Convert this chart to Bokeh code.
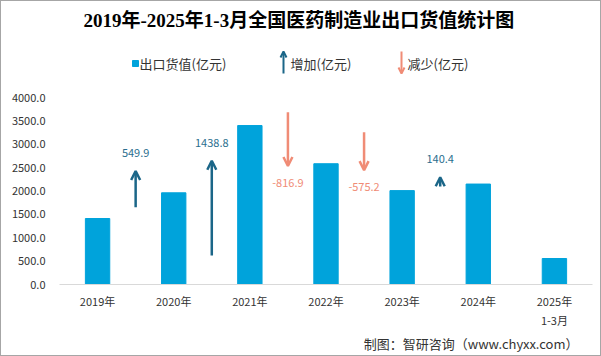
from bokeh.plotting import figure
from bokeh.layouts import column
from bokeh.models import (Range1d, FixedTicker, ColumnDataSource, Arrow,
                          OpenHead, LabelSet, NumeralTickFormatter)
from bokeh.embed import file_html
from bokeh.resources import INLINE
from bokeh.core.properties import value

# ---------------- data ----------------
categories = ["2019年", "2020年", "2021年", "2022年", "2023年", "2024年", "2025年\n1-3月"]
export_values = [1411.6, 1961.5, 3400.3, 2583.4, 2008.2, 2148.6, 556.0]
changes = [549.9, 1438.8, -816.9, -575.2, 140.4]
change_labels = ["549.9", "1438.8", "-816.9", "-575.2", "140.4"]
arrow_start = [1174, 441, 2617, 2313, 1489]   # arrow base on the arrow scale
y_ticks = [0, 500, 1000, 1500, 2000, 2500, 3000, 3500, 4000]
title_text = "2019年-2025年1-3月全国医药制造业出口货值统计图"
legend_labels = ["出口货值(亿元)", "增加(亿元)", "减少(亿元)"]
source_text = "制图：智研咨询（www.chyxx.com）"

BAR = "#00A3DB"
UP = "#1B6688"
UP_TXT = "#2A6E8E"
DOWN = "#F08C76"
FONT = "Noto Sans CJK SC"
TXT = "#333333"

W = 599
H_HEAD, H_MAIN, H_FOOT = 85, 248, 21
FL, FR = 58, 591   # plot frame left / right (shared by all rows of the column)


def bare(fig):
    fig.grid.visible = False
    fig.axis.visible = False
    fig.outline_line_color = None
    fig.background_fill_color = "white"
    fig.border_fill_color = "white"
    return fig


# ---------------- header: title + legend ----------------
head = bare(figure(width=W, height=H_HEAD, output_backend="svg", toolbar_location=None,
                   x_range=Range1d(FL, FR), y_range=Range1d(0, H_HEAD),
                   min_border_left=FL, min_border_right=W - FR,
                   min_border_top=0, min_border_bottom=0))
head.text(x=[82], y=[66], text=[title_text], text_align="left", text_baseline="middle",
          text_font=value("Liberation Serif, Noto Sans CJK SC"), text_font_style="bold",
          text_font_size="19px", text_color="#000000")
head.scatter(x=[134], y=[23], marker="square", size=6, color=BAR)
head.text(x=[138, 289, 406], y=[23, 23, 23], text=legend_labels, text_baseline="middle",
          text_font=value(FONT), text_font_size="13px", text_color=TXT)
head.add_layout(Arrow(end=OpenHead(size=6, line_color=UP, line_width=2),
                      x_start=282, y_start=13, x_end=282, y_end=35,
                      line_color=UP, line_width=2))
head.add_layout(Arrow(end=OpenHead(size=6, line_color=DOWN, line_width=2),
                      x_start=400, y_start=35, x_end=400, y_end=13,
                      line_color=DOWN, line_width=2))

# ---------------- main chart ----------------
p = figure(width=W, height=H_MAIN, output_backend="svg", toolbar_location=None,
           x_range=Range1d(-0.5, 6.5), y_range=Range1d(0, 4000),
           min_border_left=FL, min_border_right=W - FR, min_border_top=11, min_border_bottom=50)
p.extra_y_ranges = {"arr": Range1d(0, 2840)}
p.grid.visible = False
p.outline_line_color = None
p.background_fill_color = "white"
p.border_fill_color = "white"

idx = list(range(len(categories)))
p.vbar(x=idx, top=export_values, width=0.32, color=BAR)

p.xaxis.ticker = FixedTicker(ticks=idx)
p.xaxis.major_label_overrides = {i: c for i, c in zip(idx, categories)}
p.xaxis.axis_line_color = "#D9D9D9"
p.xaxis.axis_line_width = 1
p.xaxis.major_tick_line_color = None
p.xaxis.minor_tick_line_color = None
p.xaxis.major_label_standoff = 2
p.yaxis.ticker = FixedTicker(ticks=y_ticks)
p.yaxis.formatter = NumeralTickFormatter(format="0.0")
p.yaxis.axis_line_color = None
p.yaxis.major_tick_line_color = None
p.yaxis.minor_tick_line_color = None
p.yaxis.major_label_standoff = 8
for ax in (p.xaxis, p.yaxis):
    ax.major_label_text_font = FONT
    ax.major_label_text_font_size = "11px"
    ax.major_label_text_color = TXT

mid = [i + 0.5 for i in range(len(changes))]
arrow_end = [s + c for s, c in zip(arrow_start, changes)]
for m, s, e, c in zip(mid, arrow_start, arrow_end, changes):
    col = UP if c > 0 else DOWN
    p.add_layout(Arrow(end=OpenHead(size=9, line_color=col, line_width=2.5),
                       x_start=m, y_start=s, x_end=m, y_end=e,
                       line_color=col, line_width=2.5, y_range_name="arr"))

up_src = ColumnDataSource(dict(x=[m for m, c in zip(mid, changes) if c > 0],
                               y=[e for e, c in zip(arrow_end, changes) if c > 0],
                               t=[t for t, c in zip(change_labels, changes) if c > 0]))
dn_src = ColumnDataSource(dict(x=[m for m, c in zip(mid, changes) if c < 0],
                               y=[e for e, c in zip(arrow_end, changes) if c < 0],
                               t=[t for t, c in zip(change_labels, changes) if c < 0]))
p.add_layout(LabelSet(x="x", y="y", text="t", source=up_src, y_range_name="arr",
                      y_offset=18, text_align="center", text_baseline="middle",
                      text_font=value(FONT), text_font_size="11px", text_color=UP_TXT))
p.add_layout(LabelSet(x="x", y="y", text="t", source=dn_src, y_range_name="arr",
                      y_offset=-17, text_align="center", text_baseline="middle",
                      text_font=value(FONT), text_font_size="11px", text_color=DOWN))

# ---------------- footer: source ----------------
foot = bare(figure(width=W, height=H_FOOT, output_backend="svg", toolbar_location=None,
                   x_range=Range1d(FL, FR), y_range=Range1d(0, H_FOOT),
                   min_border_left=FL, min_border_right=W - FR,
                   min_border_top=0, min_border_bottom=0))
foot.text(x=[577], y=[12], text=[source_text], text_align="right", text_baseline="middle",
          text_font=value(FONT), text_font_size="13px", text_color=TXT)

layout = column(head, p, foot, spacing=0, styles={"border": "1px solid #A6A6A6"})
open("out.html", "w").write(file_html(layout, INLINE))
